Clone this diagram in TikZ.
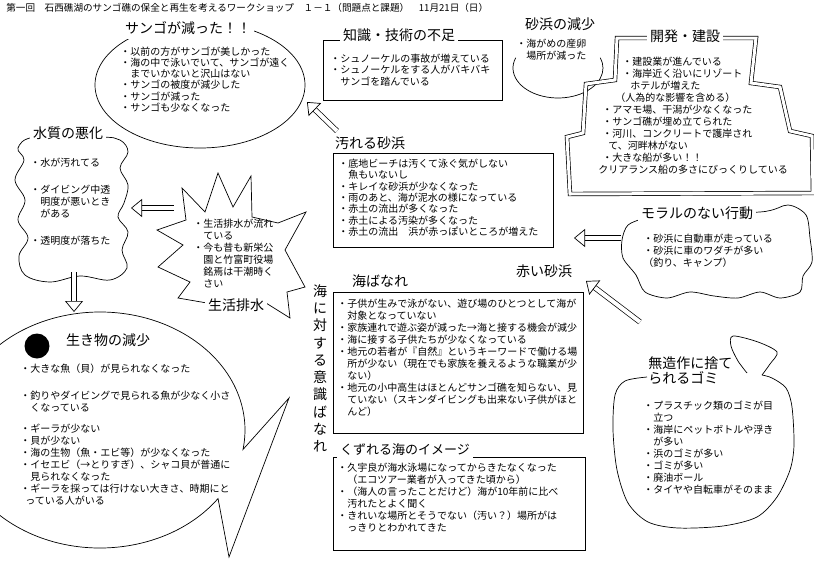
\documentclass[tikz,border=0pt]{standalone}
\usepackage{fontspec}
\setmainfont{Noto Sans CJK JP}
\usetikzlibrary{arrows.meta}

\tikzset{
  body/.style={font=\fontsize{10}{12}\selectfont, align=left, inner sep=0pt, anchor = north west},
  ttl/.style={font=\fontsize{14}{16}\selectfont, inner sep=3pt},
  ttlw/.style={ttl, fill=white, inner ysep=4pt},
  hollow/.style={double, double distance=4pt, line width=0.7pt, -{Triangle[open, length=11pt, width=18pt]}},
  dbl/.style={double, double distance=3pt, line width=0.7pt},
}

\begin{document}
\begin{tikzpicture}[x=1pt, y=-1pt, line width=0.7pt]
\useasboundingbox (0,0) rectangle (814,560);

\node[anchor = west, font=\fontsize{9.6}{12}\selectfont, inner sep=0pt] (head) at (6,8) {第一回　石西礁湖のサンゴ礁の保全と再生を考えるワークショップ　１－１（問題点と課題）　11月21日（日）};

\draw (200,85) ellipse [x radius=105, y radius=63];
\node[ttlw] (coral) at (188,28) {サンゴが減った！！};
\node[body, font=\fontsize{10}{11.2}\selectfont] (coralTxt) at (120,46.5) {・以前の方がサンゴが美しかった\\・海の中で泳いでいて、サンゴが遠く\\　までいかないと沢山はない\\・サンゴの被度が減少した\\・サンゴが減った\\・サンゴも少なくなった};

\draw (323,40) rectangle (502,100);
\node[ttlw] (skill) at (399,35) {知識・技術の不足};
\node[body, font=\fontsize{10}{11.5}\selectfont] (skillTxt) at (330,53.5) {・シュノーケルの事故が増えている\\・シュノーケルをする人がバキバキ\\　サンゴを踏んでいる};

\draw (558,68) ++(200:45 and 30) arc [start angle=200, end angle=-20, x radius=45, y radius=30];
\node[ttl] (beach) at (560,24) {砂浜の減少};
\node[body] (beachTxt) at (516,38.5) {・海がめの産卵\\　場所が減った};

\draw[dbl] (617,38) -- (756,38) -- (751,83) -- (780,87) -- (790,131) -- (812,136) -- (813,193) -- (570,194) -- (567,137) -- (583,133) -- (586,84) -- (615,80) -- cycle;
\node[ttlw] (dev) at (685,36) {開発・建設};
\node[body] (devTxt) at (598,56.5) {\hspace*{24pt}・建設業が進んでいる\\\hspace*{24pt}・海岸近く沿いにリゾート\\\hspace*{32pt}ホテルが増えた\\\hspace*{17pt}（人為的な影響を含める）\\\hspace*{4pt}・アマモ場、干潟が少なくなった\\\hspace*{4pt}・サンゴ礁が埋め立てられた\\\hspace*{4pt}・河川、コンクリートで護岸され\\\hspace*{10pt}て、河畔林がない\\\hspace*{4pt}・大きな船が多い！！\\クリアランス船の多さにびっくりしている};

\node[ttl] (dirt) at (370,143) {汚れる砂浜};
\draw (333,153) rectangle (553,247);
\node[body, font=\fontsize{10}{11.4}\selectfont] (dirtTxt) at (338,158.5) {・底地ビーチは汚くて泳ぐ気がしない\\　魚もいないし\\・キレイな砂浜が少なくなった\\・雨のあと、海が泥水の様になっている\\・赤土の流出が多くなった\\・赤土による汚染が多くなった\\・赤土の流出　浜が赤っぽいところが増えた};
\coordinate (dirtTail) at (337,131);
\coordinate (coralHead) at (307,102);
\draw[hollow] (dirtTail) -- (coralHead);

\draw plot[smooth cycle, tension=0.6] coordinates {(100,137) (120,140) (128,152) (120,168) (128,185) (124,203) (118,217) (128,232) (122,250) (127,268) (110,280) (80,276) (50,282) (25,275) (19,256) (28,238) (18,220) (25,200) (15,180) (24,160) (18,148) (35,137)};
\node[ttlw] (water) at (68,133) {水質の悪化};
\node[body] (waterTxt) at (30,157.5) {・水が汚れてる\\[15pt]・ダイビング中透\\　明度が悪いとき\\　がある\\[15pt]・透明度が落ちた};

\draw (182,188) -- (205,212) -- (218,173) -- (233,207) -- (251,176) -- (252,217) -- (278,223) -- (306,212) -- (285,250) -- (305,287) -- (287,292) -- (290,318) -- (266,303) -- (207,303) -- (178,298) -- (190,282) -- (158,267) -- (183,245) -- (157,230) -- (186,220) -- cycle;
\node[ttlw] (sewage) at (236,305) {生活排水};
\node[body] (sewageTxt) at (193,219) {・生活排水が流れ\\　ている\\・今も昔も新栄公\\　園と竹富町役場\\　銘焉は干潮時く\\　さい};
\coordinate (sewageTail) at (174,208);
\coordinate (waterHead) at (131,208);
\draw[hollow] (sewageTail) -- (waterHead);
\coordinate (waterFoot) at (74,272);
\coordinate (lifeTop) at (74,312);
\draw[hollow] (waterFoot) -- (lifeTop);

\draw (100,430) ++(35.5:145 and 118) arc [start angle=35.5, end angle=369.5, x radius=145, y radius=118] -- (289,398) -- (229,557) -- cycle;
\fill (37,346) circle [radius=12.5pt];
\node[ttl] (life) at (108,340) {生き物の減少};
\node[body] (lifeTxt) at (20,364) {・大きな魚（貝）が見られなくなった\\[15pt]・釣りやダイビングで見られる魚が少なく小さ\\　くなっている\\[9pt]・ギーラが少ない\\・貝が少ない\\・海の生物（魚・エビ等）が少なくなった\\・イセエビ（→とりすぎ）、シャコ貝が普通に\\　見られなくなった\\・ギーラを採っては行けない大きさ、時期にと\\\hspace*{5pt}っている人がいる};

\node[font=\fontsize{14}{17.3}\selectfont, align=center, inner sep=0pt, anchor = north] (aware) at (320,284) {海\\に\\対\\す\\る\\意\\識\\ば\\な\\れ};

\draw (333,292) rectangle (583,433);
\node[ttlw] (away) at (380,281) {海ばなれ};
\node[body] (awayTxt) at (337,299) {・子供が生みで泳がない、遊び場のひとつとして海が\\　対象となっていない\\・家族連れで遊ぶ姿が減った→海と接する機会が減少\\・海に接する子供たちが少なくなっている\\・地元の若者が『自然』というキーワードで働ける場\\　所が少ない（現在でも家族を養えるような職業が少\\　ない）\\・地元の小中高生はほとんどサンゴ礁を知らない、見\\　ていない（スキンダイビングも出来ない子供がほと\\　んど）};

\node[ttl] (red) at (544,271) {赤い砂浜};
\coordinate (moralTail) at (621,238);
\coordinate (redHead) at (574,238);
\draw[hollow] (moralTail) -- (redHead);
\coordinate (trashTail) at (640,322);
\coordinate (redFoot) at (586,281);
\draw[hollow] (trashTail) -- (redFoot);

\draw plot[smooth cycle] coordinates {(760,212) (788,205) (806,215) (810,238) (812,262) (803,276) (800,292) (780,298) (760,292) (738,298) (714,296) (690,292) (667,298) (645,292) (636,275) (623,258) (622,240) (628,225) (645,218) (660,214)};
\node[ttlw] (moral) at (697,213) {モラルのない行動};
\node[body] (moralTxt) at (643,234) {・砂浜に自動車が走っている\\・砂浜に車のワダチが多い\\（釣り、キャンプ）};

\draw plot[smooth] coordinates {(647,377) (625,381) (615,395) (613,430) (617,470) (628,503) (648,522) (678,528) (723,526) (757,517) (777,497) (790,470) (794,445) (792,407) (786,388) (772,378) (762,375)};
\draw plot[smooth] coordinates {(762,375) (770,364) (777,352) (758,342) (733,336) (731,346) (738,361) (747,373)};
\node[ttl, align=left, font=\fontsize{14}{15}\selectfont, anchor = north west] (trash) at (645,353) {無造作に捨て\\られるゴミ};
\node[body] (trashTxt) at (643,401) {・プラスチック類のゴミが目\\　立つ\\・海岸にペットボトルや浮き\\　が多い\\・浜のゴミが多い\\・ゴミが多い\\・廃油ボール\\・タイヤや自転車がそのまま};

\draw (333,457) rectangle (585,550);
\node[ttlw, font=\fontsize{13}{15}\selectfont] (image) at (405,450) {くずれる海のイメージ};
\node[body] (imageTxt) at (337,463) {・久宇良が海水泳場になってからきたなくなった\\　（エコツアー業者が入ってきた頃から）\\・（海人の言ったことだけど）海が10年前に比べ\\　汚れたとよく聞く\\・きれいな場所とそうでない（汚い？）場所がは\\　っきりとわかれてきた};
\end{tikzpicture}
\end{document}
